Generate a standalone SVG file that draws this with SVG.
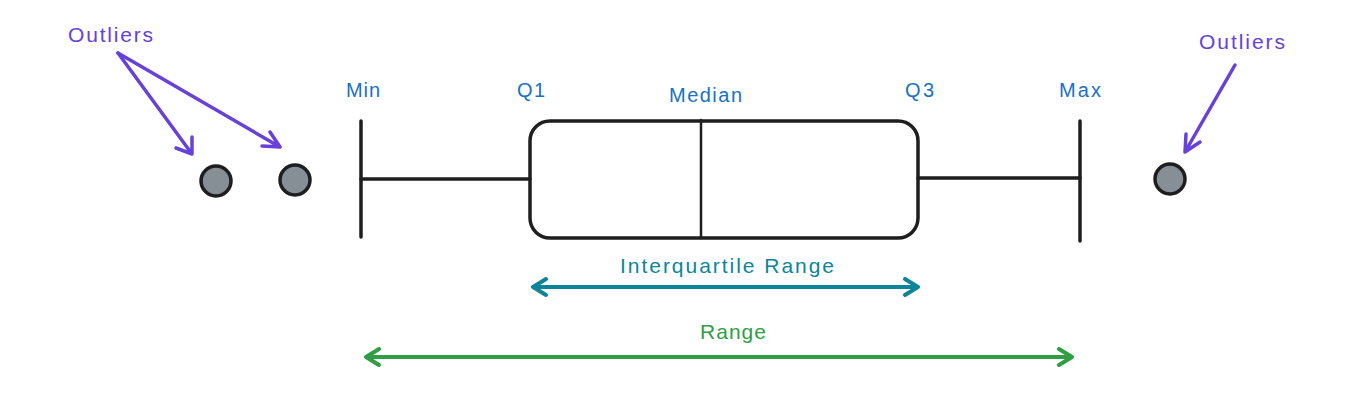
<svg xmlns="http://www.w3.org/2000/svg" width="1362" height="402" viewBox="0 0 1362 402">
<style>
text{font-family:"Liberation Sans",Arial,sans-serif;font-size:21px}
.lbl{fill:#1971c2;font-size:20px}
.out{fill:#6741d9}
.shape{fill:none;stroke:#1e1e1e;stroke-width:3.5;stroke-linecap:round;stroke-linejoin:round}
.pt{fill:#868e96;stroke:#1e1e1e;stroke-width:3.5}
.pa{fill:none;stroke:#6741d9;stroke-width:3.5;stroke-linecap:round;stroke-linejoin:round}
.iqr{fill:none;stroke:#0c8599;stroke-width:4;stroke-linecap:round;stroke-linejoin:round}
.rng{fill:none;stroke:#2f9e44;stroke-width:4;stroke-linecap:round;stroke-linejoin:round}
</style>
<rect width="1362" height="402" fill="#ffffff"/>
<g id="boxplot">
<line class="shape" x1="361" y1="121" x2="361" y2="237"/>
<line class="shape" x1="361" y1="179" x2="530" y2="179"/>
<rect class="shape" x="530" y="121" width="388" height="117" rx="20"/>
<line class="shape" x1="701" y1="120" x2="701" y2="238" style="stroke-width:2.5"/>
<line class="shape" x1="918" y1="178" x2="1080" y2="178"/>
<line class="shape" x1="1080" y1="121" x2="1080" y2="241"/>
</g>
<g id="labels">
<text class="lbl" x="346" y="97" textLength="34">Min</text>
<text class="lbl" x="517" y="97" textLength="28">Q1</text>
<text class="lbl" x="669" y="102" textLength="73">Median</text>
<text class="lbl" x="905" y="97" textLength="29">Q3</text>
<text class="lbl" x="1059" y="97" textLength="42">Max</text>
</g>
<g id="outlier-points">
<circle class="pt" cx="216" cy="181" r="15"/>
<circle class="pt" cx="295" cy="180" r="15"/>
<circle class="pt" cx="1170" cy="179" r="15"/>
</g>
<g id="outlier-labels">
<text class="out" x="68" y="42" textLength="85">Outliers</text>
<text class="out" x="1199" y="49" textLength="86">Outliers</text>
</g>
<g id="connectors">
<path class="pa" d="M118 53 L192 154 M176 148 L192 154 L192 137"/>
<path class="pa" d="M118 53 L280 147 M262 146 L280 147 L270 132"/>
<path class="pa" d="M1235 65 L1185 152 M1186 134 L1185 152 L1200 142"/>
<path class="iqr" d="M533 287 L918 287 M546 279 L533 287 L546 295 M905 279 L918 287 L905 295"/>
<path class="rng" d="M366 357 L1072 357 M379 349 L366 357 L379 365 M1059 349 L1072 357 L1059 365"/>
</g>
<g id="range-labels">
<text x="727" y="273" text-anchor="middle" fill="#0c8599" textLength="214">Interquartile Range</text>
<text x="733" y="339" text-anchor="middle" fill="#2f9e44" textLength="66">Range</text>
</g>
</svg>
